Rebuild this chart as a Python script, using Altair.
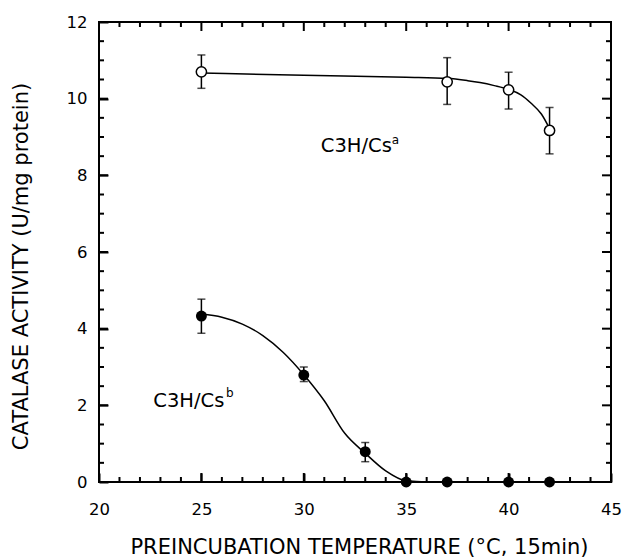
import altair as alt
import pandas as pd

# ---- data ----
# C3H/Cs^a (open circles)
open_x = [25, 37, 40, 42]
open_y = [10.70, 10.44, 10.23, 9.17]
open_lo = [10.27, 9.85, 9.73, 8.56]
open_hi = [11.14, 11.07, 10.69, 9.77]

# C3H/Cs^b (filled circles)
filled_x = [25, 30, 33, 35, 37, 40, 42]
filled_y = [4.33, 2.79, 0.79, 0.0, 0.0, 0.0, 0.0]
filled_err_x = [25, 30, 33]
filled_lo = [3.88, 2.62, 0.53]
filled_hi = [4.77, 3.00, 1.03]

# fitted curves
open_curve_x = [25, 30, 35, 37, 38, 38.6, 39.3, 40, 40.6, 41.1, 41.6, 42]
open_curve_y = [10.67, 10.61, 10.56, 10.53, 10.47, 10.42, 10.34, 10.24, 10.10, 9.88, 9.60, 9.22]
filled_curve_x = [25, 26, 27, 28, 29, 30, 31, 32, 33, 34, 35, 36, 37, 38, 39, 40, 41, 42]
filled_curve_y = [4.38, 4.30, 4.12, 3.82, 3.38, 2.80, 2.12, 1.27, 0.75, 0.29, 0.03, 0, 0, 0, 0, 0, 0, 0]

# annotations
label_text = ["C3H/Cs", "C3H/Cs"]
label_x = [30.83, 22.65]
label_y = [8.61, 1.96]
sup_text = ["a", "b"]
sup_x = [34.30, 26.20]
sup_y = [8.82, 2.23]

# axis ticks
x_major = [20, 25, 30, 35, 40, 45]
x_minor = [21, 22, 23, 24, 26, 27, 28, 29, 31, 32, 33, 34, 36, 37, 38, 39, 41, 42, 43, 44]
y_major = [0, 2, 4, 6, 8, 10, 12]
y_minor = [0.5, 1, 1.5, 2.5, 3, 3.5, 4.5, 5, 5.5, 6.5, 7, 7.5, 8.5, 9, 9.5, 10.5, 11, 11.5]
x_lim = [20, 45]
y_lim = [0, 12]

x_title = "PREINCUBATION TEMPERATURE (°C, 15min)"
y_title = "CATALASE ACTIVITY (U/mg protein)"

# ---- layout constants ----
W, H = 512, 460
MAJOR_LEN, MINOR_LEN = 9, 5
x_per_px = (x_lim[1] - x_lim[0]) / W
y_per_px = (y_lim[1] - y_lim[0]) / H

# ---- tables ----
open_curve = pd.DataFrame({"x": open_curve_x, "y": open_curve_y})
filled_curve = pd.DataFrame({"x": filled_curve_x, "y": filled_curve_y})
open_pts = pd.DataFrame({"x": open_x, "y": open_y})
filled_pts = pd.DataFrame({"x": filled_x, "y": filled_y})
err_x = open_x + filled_err_x
err_lo = open_lo + filled_lo
err_hi = open_hi + filled_hi
errs = pd.DataFrame({"x": err_x, "lo": err_lo, "hi": err_hi})
caps = pd.DataFrame({"x": err_x + err_x, "y": err_lo + err_hi})
labels = pd.DataFrame({"x": label_x, "y": label_y, "t": label_text})
sups = pd.DataFrame({"x": sup_x, "y": sup_y, "t": sup_text})

# inward tick segments on all four sides, built from the tick-value lists
xt_rows = []
for vals, ln in ((x_major, MAJOR_LEN), (x_minor, MINOR_LEN)):
    d = ln * y_per_px
    for v in vals:
        xt_rows.append({"v": v, "a": y_lim[0], "b": y_lim[0] + d})
        xt_rows.append({"v": v, "a": y_lim[1] - d, "b": y_lim[1]})
yt_rows = []
for vals, ln in ((y_major, MAJOR_LEN), (y_minor, MINOR_LEN)):
    d = ln * x_per_px
    for v in vals:
        yt_rows.append({"v": v, "a": x_lim[0], "b": x_lim[0] + d})
        yt_rows.append({"v": v, "a": x_lim[1] - d, "b": x_lim[1]})
xticks = pd.DataFrame(xt_rows)
yticks = pd.DataFrame(yt_rows)

FONT = "DejaVu Sans"
xs = alt.Scale(domain=x_lim, nice=False, zero=False)
ys = alt.Scale(domain=y_lim, nice=False, zero=False)

common = dict(domain=False, grid=False, tickColor="black", tickWidth=2,
              labelColor="black", titleColor="black")

ax_bottom = alt.Axis(orient="bottom", values=x_major, tickSize=9, offset=-9,
                     labelFont=FONT, labelFontSize=16.5, labelPadding=19,
                     labelFlush=False, labelOverlap=False,
                     title=x_title, titleFont=FONT, titleFontSize=21,
                     titleFontWeight="normal", titleX=260, titleY=80,
                     titleBaseline="alphabetic", **common)
ax_left = alt.Axis(orient="left", values=y_major, tickSize=9, offset=-9,
                   labelFont=FONT, labelFontSize=16.5, labelPadding=12,
                   labelFlush=False, labelOverlap=False,
                   title=y_title, titleFont=FONT, titleFontSize=21,
                   titleFontWeight="normal", titleX=-81, titleY=244,
                   titleBaseline="alphabetic", **common)


def XQ(field):
    return alt.X(field, type="quantitative", scale=xs, axis=None)


def YQ(field):
    return alt.Y(field, type="quantitative", scale=ys, axis=None)


l1 = alt.Chart(filled_curve).mark_line(color="black", strokeWidth=1.5, interpolate="monotone").encode(
    x=alt.X("x:Q", scale=xs, axis=ax_bottom),
    y=alt.Y("y:Q", scale=ys, axis=ax_left),
)
l2 = alt.Chart(open_curve).mark_line(color="black", strokeWidth=1.5, interpolate="monotone").encode(
    x=XQ("x"), y=YQ("y"),
)
l3 = alt.Chart(errs).mark_rule(color="black", strokeWidth=1.5).encode(
    x=XQ("x"), y=YQ("lo"), y2="hi:Q",
)
l4 = alt.Chart(caps).mark_tick(color="black", orient="horizontal", size=8, thickness=1.5).encode(
    x=XQ("x"), y=YQ("y"),
)
l6 = alt.Chart(open_pts).mark_point(shape="circle", filled=True, fill="white", stroke="black",
                                    strokeWidth=1.5, size=105, opacity=1).encode(
    x=XQ("x"), y=YQ("y"),
)
l7 = alt.Chart(filled_pts).mark_point(shape="circle", filled=True, color="black",
                                      size=120, opacity=1).encode(
    x=XQ("x"), y=YQ("y"),
)
l8 = alt.Chart(labels).mark_text(align="left", baseline="alphabetic", font=FONT,
                                 fontSize=19.5, color="black").encode(
    x=XQ("x"), y=YQ("y"), text="t:N",
)
l9 = alt.Chart(sups).mark_text(align="left", baseline="alphabetic", font=FONT,
                               fontSize=12, color="black").encode(
    x=XQ("x"), y=YQ("y"), text="t:N",
)
t1 = alt.Chart(xticks).mark_rule(color="black", strokeWidth=2).encode(
    x=XQ("v"), y=YQ("a"), y2="b:Q",
)
t2 = alt.Chart(yticks).mark_rule(color="black", strokeWidth=2).encode(
    y=YQ("v"), x=XQ("a"), x2="b:Q",
)

chart = alt.layer(t1, t2, l1, l2, l3, l4, l6, l7, l8, l9).resolve_axis(
    x="independent", y="independent"
).properties(
    width=W, height=H,
    padding={"left": 99, "top": 22, "right": 13, "bottom": 78},
    autosize=alt.AutoSizeParams(type="none"),
    background="white",
).configure_view(stroke="black", strokeWidth=2)

chart.save("out.html", embed_options={"renderer": "svg", "actions": False})
